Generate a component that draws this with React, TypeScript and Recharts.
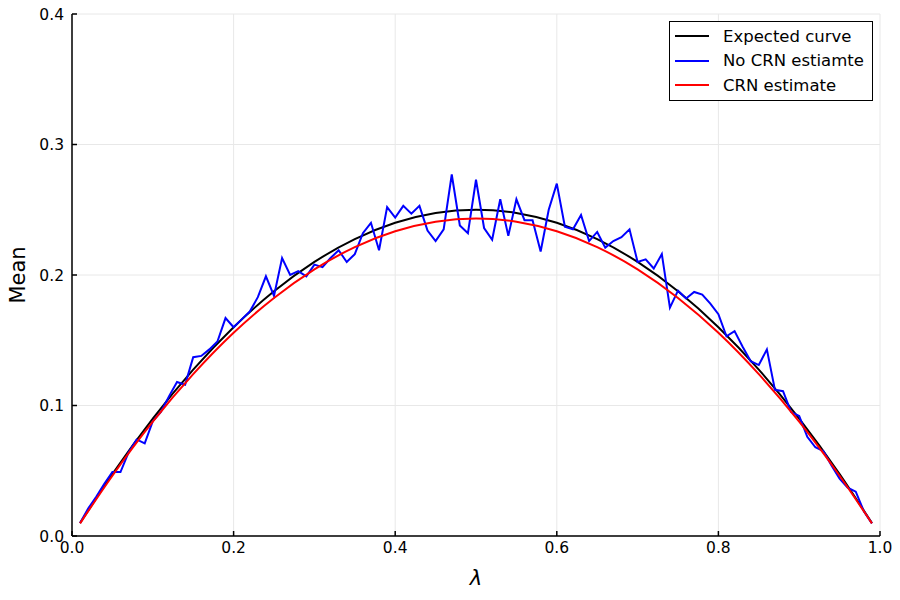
import React from 'react';
import { LineChart, Line, XAxis, YAxis, CartesianGrid } from 'recharts';

// lambda grid of the noisy estimate
const lambdas = [
  0.01, 0.02, 0.03, 0.04, 0.05, 0.06, 0.07, 0.08, 0.09, 0.1,
  0.11, 0.12, 0.13, 0.14, 0.15, 0.16, 0.17, 0.18, 0.19, 0.2,
  0.21, 0.22, 0.23, 0.24, 0.25, 0.26, 0.27, 0.28, 0.29, 0.3,
  0.31, 0.32, 0.33, 0.34, 0.35, 0.36, 0.37, 0.38, 0.39, 0.4,
  0.41, 0.42, 0.43, 0.44, 0.45, 0.46, 0.47, 0.48, 0.49, 0.5,
  0.51, 0.52, 0.53, 0.54, 0.55, 0.56, 0.57, 0.58, 0.59, 0.6,
  0.61, 0.62, 0.63, 0.64, 0.65, 0.66, 0.67, 0.68, 0.69, 0.7,
  0.71, 0.72, 0.73, 0.74, 0.75, 0.76, 0.77, 0.78, 0.79, 0.8,
  0.81, 0.82, 0.83, 0.84, 0.85, 0.86, 0.87, 0.88, 0.89, 0.9,
  0.91, 0.92, 0.93, 0.94, 0.95, 0.96, 0.97, 0.98, 0.99,
];

const noCrn = [
  0.0099, 0.021, 0.03, 0.04, 0.049, 0.049, 0.064, 0.074, 0.071, 0.088,
  0.095, 0.107, 0.118, 0.116, 0.137, 0.138, 0.143, 0.149, 0.167, 0.16,
  0.166, 0.172, 0.183, 0.199, 0.184, 0.213, 0.2, 0.203, 0.199, 0.208,
  0.206, 0.213, 0.219, 0.21, 0.216, 0.232, 0.24, 0.219, 0.252, 0.244,
  0.253, 0.247, 0.253, 0.234, 0.226, 0.235, 0.277, 0.238, 0.232, 0.273,
  0.236, 0.227, 0.258, 0.23, 0.258, 0.242, 0.242, 0.218, 0.25, 0.27,
  0.237, 0.235, 0.246, 0.226, 0.233, 0.221, 0.226, 0.229, 0.235, 0.21,
  0.212, 0.205, 0.216, 0.175, 0.188, 0.182, 0.187, 0.185, 0.178, 0.17,
  0.153, 0.157, 0.145, 0.134, 0.131, 0.143, 0.112, 0.111, 0.095, 0.092,
  0.076, 0.068, 0.065, 0.054, 0.044, 0.037, 0.034, 0.019, 0.0097,
];

// smooth curves, sampled more coarsely
const smoothLambdas = [
  0.01, 0.05, 0.1, 0.15, 0.2, 0.25, 0.3, 0.35, 0.4, 0.45, 0.5,
  0.55, 0.6, 0.65, 0.7, 0.75, 0.8, 0.85, 0.9, 0.95, 0.99,
];
const expected = [
  0.0099, 0.0475, 0.09, 0.1275, 0.16, 0.1875, 0.21, 0.2275, 0.24, 0.2475, 0.25,
  0.2475, 0.24, 0.2275, 0.21, 0.1875, 0.16, 0.1275, 0.09, 0.0475, 0.0099,
];
const crn = [
  0.0097, 0.0462, 0.0876, 0.124, 0.1557, 0.1824, 0.2043, 0.2214, 0.2335, 0.2408, 0.2433,
  0.2408, 0.2335, 0.2214, 0.2043, 0.1824, 0.1557, 0.124, 0.0876, 0.0462, 0.0097,
];

const xTicks = [0, 0.2, 0.4, 0.6, 0.8, 1.0];
const yTicks = [0, 0.1, 0.2, 0.3, 0.4];

const seriesNames = ['Expected curve', 'No CRN estiamte', 'CRN estimate'];
const seriesColors = ['#000000', '#0000ff', '#ff0000'];

const noCrnData = lambdas.map((l, i) => ({ x: l, y: noCrn[i] }));
const expectedData = smoothLambdas.map((l, i) => ({ x: l, y: expected[i] }));
const crnData = smoothLambdas.map((l, i) => ({ x: l, y: crn[i] }));

const FONT = '"DejaVu Sans", sans-serif';

const LegendBox = () => (
  <div
    style={{
      position: 'absolute',
      left: 669,
      top: 21,
      boxSizing: 'border-box',
      width: 204,
      height: 80,
      border: '1.5px solid #000',
      background: '#fff',
      paddingTop: 2,
      fontFamily: FONT,
      fontSize: 16.5,
      color: '#000',
      whiteSpace: 'nowrap',
    }}
  >
    {seriesNames.map((name, i) => (
      <div key={name} style={{ display: 'flex', alignItems: 'center', height: 24.5 }}>
        <div style={{ width: 34, height: 2, marginLeft: 5, background: seriesColors[i] }} />
        <span style={{ marginLeft: 14 }}>{name}</span>
      </div>
    ))}
  </div>
);

const App: React.FC = () => {
  return (
    <div style={{ position: 'absolute', left: 0, top: 0, width: 900, height: 600, background: '#fff' }}>
      <LineChart width={900} height={600} margin={{ top: 14, right: 20, left: 0, bottom: 0 }}>
        <CartesianGrid stroke="#e8e8e8" strokeWidth={1} />
        <XAxis
          type="number"
          dataKey="x"
          domain={[0, 1]}
          ticks={xTicks}
          tickFormatter={(v: number) => v.toFixed(1)}
          height={64}
          stroke="#000"
          strokeWidth={1.5}
          tickSize={-5}
          tickMargin={11}
          tick={{ fill: '#000', fontSize: 15.5, fontFamily: FONT }}
          allowDataOverflow
          label={{
            content: ({ viewBox }: any) => (
              <text
                x={viewBox.x + viewBox.width / 2}
                y={585}
                textAnchor="middle"
                fontFamily={FONT}
                fontStyle="italic"
                fontSize={21}
                fill="#000"
              >
                λ
              </text>
            ),
          }}
        />
        <YAxis
          type="number"
          dataKey="y"
          domain={[0, 0.4]}
          ticks={yTicks}
          tickFormatter={(v: number) => v.toFixed(1)}
          width={72}
          stroke="#000"
          strokeWidth={1.5}
          tickSize={-5}
          tickMargin={13}
          tick={{ fill: '#000', fontSize: 15.5, fontFamily: FONT }}
          allowDataOverflow
          label={{
            content: ({ viewBox }: any) => (
              <text
                x={25}
                y={viewBox.y + viewBox.height / 2}
                textAnchor="middle"
                transform={`rotate(-90, 25, ${viewBox.y + viewBox.height / 2})`}
                fontFamily={FONT}
                fontSize={21}
                fill="#000"
              >
                Mean
              </text>
            ),
          }}
        />
        <Line
          data={expectedData}
          dataKey="y"
          name={seriesNames[0]}
          type="monotone"
          stroke={seriesColors[0]}
          strokeWidth={2}
          dot={false}
          isAnimationActive={false}
        />
        <Line
          data={noCrnData}
          dataKey="y"
          name={seriesNames[1]}
          type="linear"
          stroke={seriesColors[1]}
          strokeWidth={2}
          dot={false}
          isAnimationActive={false}
        />
        <Line
          data={crnData}
          dataKey="y"
          name={seriesNames[2]}
          type="monotone"
          stroke={seriesColors[2]}
          strokeWidth={2}
          dot={false}
          isAnimationActive={false}
        />
      </LineChart>
      <LegendBox />
    </div>
  );
};

export default App;
